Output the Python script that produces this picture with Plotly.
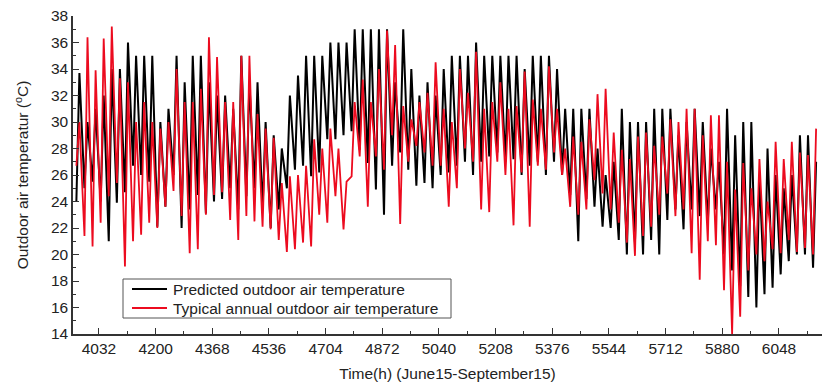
import plotly.graph_objects as go

# ---- data (daily extremes, °C) ----
START_HOUR = 3960            # June 15, 00:00
HOUR_OF_MIN = 5
HOUR_OF_MAX = 14

predicted_max = [33.7, 30, 31, 32, 34, 34, 36, 35, 35, 35, 30, 31, 35, 33, 35, 35, 33, 32, 32, 31,
                 35, 33, 33, 30, 29, 28, 32, 33.5, 35, 35, 35, 36, 36, 36, 37, 37, 37, 37, 37, 33,
                 37, 34, 32, 33, 32, 34, 35, 35, 35, 36, 35, 35, 35, 35, 35, 34, 35, 35, 35, 34,
                 31, 31, 31, 31, 28, 26, 27, 31, 30, 30, 30, 31, 31, 31, 29, 30, 31, 30, 28, 27,
                 31, 29, 30, 30, 26, 28, 26, 25, 26, 29, 29, 27]
predicted_min = [24, 25, 25.5, 24, 21, 23.9, 24.7, 26.7, 26, 25.5, 22.1, 23.6, 26, 22, 23.4, 24.5, 23.1, 24, 24.2, 25,
                 23.4, 24.4, 25, 23.4, 22, 23.4, 25, 26.4, 26.7, 25.9, 26.2, 28.7, 28.7, 29, 29.3, 27.9, 26.9, 24.9, 23, 26.7,
                 27.7, 26.4, 25.2, 25.4, 25, 26, 26.2, 26.7, 27, 26, 27, 27.4, 27.7, 27, 27.2, 26, 26.7, 27, 26, 27,
                 26, 24.5, 21, 24.2, 23.6, 22.1, 22, 21.1, 20, 20.9, 20, 21.1, 20, 22.6, 23.4, 21.9, 23.4, 22.9, 22.4, 23.4,
                 20, 18.8, 17.6, 16.8, 16, 17, 17.5, 18.5, 19.5, 20, 20, 19]
typical_max = [30, 36.4, 33.9, 36.3, 37.2, 33.3, 33, 30, 31.5, 30, 29.5, 30, 34, 31.5, 31.5, 32.5, 36.4, 34.9, 31.5, 31.5,
               35, 35, 30.6, 29.5, 28.8, 25.4, 25.9, 26, 26.7, 28.7, 28, 29.5, 28, 25.5, 31.5, 33.2, 31.5, 34, 36.9, 35.8,
               31.2, 30.2, 31.5, 32.2, 34.5, 31, 30, 34, 32.2, 35.3, 31, 31.5, 33, 31, 31.2, 33.8, 31.7, 31, 34.2, 31,
               28, 28.9, 28.5, 30.2, 32.1, 32.5, 29.2, 27.9, 27.2, 28.9, 29.2, 28.2, 28.9, 30.2, 30, 31, 31, 29, 30.5, 30.5,
               27, 24.9, 26.9, 25, 27.2, 24, 28.5, 27.2, 28.5, 27.7, 27.5, 29.5]
typical_min = [26.7, 21.4, 20.6, 22.4, 24.4, 25.4, 19.1, 21, 21.5, 22.4, 22, 23.6, 24.8, 22.9, 20.1, 20.4, 23, 24.5, 24.7, 22.6,
               21.1, 22.9, 22.5, 22.1, 21.9, 21.1, 20.2, 20.4, 20.9, 20.6, 23, 22.4, 24.4, 21.9, 25.9, 27.4, 23.6, 27.4, 26.4, 29,
               22.3, 27, 28.2, 27.7, 26.7, 26.7, 23.6, 25, 28, 27, 23.4, 23.2, 27, 26, 22.2, 26.2, 22.1, 26.7, 26.4, 27.7,
               26, 23.6, 23, 23.4, 25.6, 24.6, 23.4, 22.4, 20.9, 19.9, 21.4, 22.1, 23, 24.6, 22.9, 23.4, 20.1, 18.1, 21, 20.7,
               17.3, 14, 15.3, 18.8, 20, 19.5, 20.4, 20.1, 21.1, 20.2, 20.5, 20]

x_ticks = [4032, 4200, 4368, 4536, 4704, 4872, 5040, 5208, 5376, 5544, 5712, 5880, 6048]
y_ticks = [14, 16, 18, 20, 22, 24, 26, 28, 30, 32, 34, 36, 38]

names = ["Predicted outdoor air temperature", "Typical annual outdoor air temperature"]
colors = ["#000000", "#ec0b1f"]


def daily_points(mins, maxs):
    xs, ys = [], []
    for d, (lo, hi) in enumerate(zip(mins, maxs)):
        base = START_HOUR + 24 * d
        xs += [base + HOUR_OF_MIN, base + HOUR_OF_MAX]
        ys += [lo, hi]
    return xs, ys


FONT = "Liberation Sans, Arial, sans-serif"
TXT = "#222"
W, H = 822, 387
ML, MR, MT, MB = 73, 0, 16, 53
PW, PH = W - ML - MR, H - MT - MB


def px_x(p):
    return (p - ML) / PW


def px_y(p):
    return (H - MB - p) / PH


fig = go.Figure()
for (mins, maxs), name, col, w in [((predicted_min, predicted_max), names[0], colors[0], 2.0),
                                    ((typical_min, typical_max), names[1], colors[1], 1.8)]:
    xs, ys = daily_points(mins, maxs)
    fig.add_trace(go.Scatter(x=xs, y=ys, mode="lines", name=name,
                             line=dict(color=col, width=w), showlegend=False))

# legend box drawn in paper coordinates
shapes = [dict(type="rect", xref="paper", yref="paper",
               x0=px_x(123), x1=px_x(451), y0=px_y(318), y1=px_y(279),
               line=dict(color="#555", width=1), fillcolor="white", layer="above")]
annotations = []
for k, (name, col) in enumerate(zip(names, colors)):
    yy = px_y(289 + 19 * k)
    shapes.append(dict(type="line", xref="paper", yref="paper",
                       x0=px_x(132), x1=px_x(167), y0=yy, y1=yy,
                       line=dict(color=col, width=2.2), layer="above"))
    annotations.append(dict(xref="paper", yref="paper", x=px_x(171), y=yy,
                            xanchor="left", yanchor="middle", showarrow=False,
                            text=name, font=dict(size=15.5, family=FONT, color=TXT)))

fig.update_layout(
    width=W, height=H,
    margin=dict(l=ML, r=MR, t=MT, b=MB),
    paper_bgcolor="white", plot_bgcolor="white",
    font=dict(family=FONT, size=15, color=TXT),
    showlegend=False,
    shapes=shapes, annotations=annotations,
)
fig.update_xaxes(range=[3955, 6175.5], tickvals=x_ticks, ticktext=[str(v) for v in x_ticks],
                 ticks="inside", ticklen=6, tickwidth=1.2, tickcolor="#333",
                 minor=dict(dtick=84, tick0=4032, ticks="inside", ticklen=3, tickcolor="#333"),
                 showline=True, linecolor="#333", linewidth=1.5, showgrid=False, zeroline=False,
                 title=dict(text="Time(h) (June15-September15)", standoff=12,
                            font=dict(size=15.5, family=FONT, color=TXT)),
                 tickfont=dict(size=15.5, family=FONT, color=TXT))
fig.update_yaxes(range=[14, 38], tickvals=y_ticks, ticktext=[str(v) for v in y_ticks],
                 ticks="inside", ticklen=6, tickwidth=1.2, tickcolor="#333",
                 minor=dict(dtick=1, tick0=14, ticks="inside", ticklen=3, tickcolor="#333"),
                 showline=True, linecolor="#333", linewidth=1.5, showgrid=False, zeroline=False,
                 title=dict(text="Outdoor air temperatur (<sup>o</sup>C)", standoff=18,
                            font=dict(size=15.5, family=FONT, color=TXT)),
                 tickfont=dict(size=15.5, family=FONT, color=TXT))

fig.write_html("out.html")
